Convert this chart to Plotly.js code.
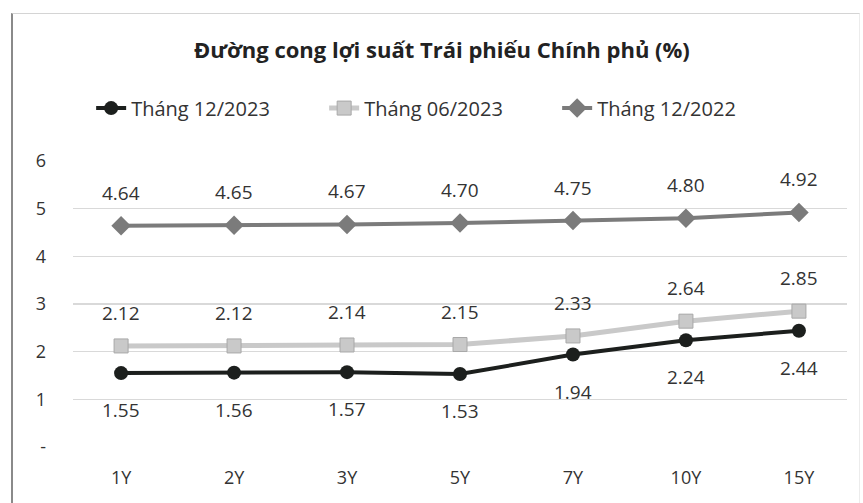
<!DOCTYPE html>
<html>
<head>
<meta charset="utf-8">
<script src="https://cdn.plot.ly/plotly-3.0.1.min.js"></script>
<style>
  html, body { margin: 0; padding: 0; background: #fff; }
  #wrap { position: relative; width: 863px; height: 503px; overflow: hidden; }
  #chart { width: 863px; height: 503px; }
  #frame { position: absolute; left: 11px; top: 13px; width: 849px; height: 500px;
           border-left: 2px solid #8a8a8a; border-top: 1px solid #d4d4d4; border-right: 1px solid #ececec;
           box-sizing: border-box; pointer-events: none; }
</style>
</head>
<body>
<div id="wrap">
  <div id="chart"></div>
  <div id="frame"></div>
</div>
<script>
const categories = ["1Y", "2Y", "3Y", "5Y", "7Y", "10Y", "15Y"];
const seriesNames = ["Tháng 12/2023", "Tháng 06/2023", "Tháng 12/2022"];
const dec2023 = [1.55, 1.56, 1.57, 1.53, 1.94, 2.24, 2.44];
const jun2023 = [2.12, 2.12, 2.14, 2.15, 2.33, 2.64, 2.85];
const dec2022 = [4.64, 4.65, 4.67, 4.70, 4.75, 4.80, 4.92];
const yTickVals = [0, 1, 2, 3, 4, 5, 6];
const yTickText = ["-", "1", "2", "3", "4", "5", "6"];

const FONT = "Open Sans, Noto Sans, sans-serif";
const TXT = "#333333";

const traces = [
  {
    x: categories, y: dec2023, name: seriesNames[0], type: "scatter", mode: "lines+markers",
    line: { color: "#1c1f1d", width: 4 },
    marker: { symbol: "circle", size: 14, color: "#1c1f1d" }
  },
  {
    x: categories, y: jun2023, name: seriesNames[1], type: "scatter", mode: "lines+markers",
    line: { color: "#c9c9c9", width: 5 },
    marker: { symbol: "square", size: 14, color: "#c9c9c9", line: { color: "#a8a8a8", width: 1 } }
  },
  {
    x: categories, y: dec2022, name: seriesNames[2], type: "scatter", mode: "lines+markers",
    line: { color: "#7b7b7b", width: 4 },
    marker: { symbol: "diamond", size: 15, color: "#7b7b7b" }
  }
];

const annotations = [];
function addLabels(vals, shift) {
  vals.forEach((v, i) => {
    annotations.push({
      x: categories[i], y: v, xref: "x", yref: "y", text: v.toFixed(2),
      showarrow: false, yshift: shift,
      font: { family: FONT, size: 19, color: TXT }
    });
  });
}
addLabels(dec2023, -37);
addLabels(jun2023, 33);
addLabels(dec2022, 33);

const layout = {
  width: 863, height: 503,
  margin: { l: 73, r: 16, t: 161, b: 56 },
  paper_bgcolor: "#ffffff", plot_bgcolor: "#ffffff",
  font: { family: FONT, color: TXT, size: 18 },
  title: {
    text: "<b>Đường cong lợi suất Trái phiếu Chính phủ (%)</b>",
    x: 0.512, xanchor: "center", y: 0.9, yanchor: "middle", xref: "container", yref: "container",
    font: { family: FONT, size: 22, color: "#222222" }
  },
  showlegend: true,
  legend: {
    orientation: "h", x: 0.475, xanchor: "center", y: 1.185, yanchor: "middle",
    font: { family: FONT, size: 20, color: TXT }, bgcolor: "rgba(0,0,0,0)",
    entrywidth: 188, entrywidthmode: "pixels", itemclick: false
  },
  xaxis: {
    type: "category", showgrid: false, zeroline: false, showline: false, ticks: "",
    ticklabelstandoff: 18, tickfont: { family: FONT, size: 18, color: TXT }, fixedrange: true
  },
  yaxis: {
    range: [0, 6], tickvals: yTickVals, ticktext: yTickText, showgrid: true,
    gridcolor: "#d9d9d9", gridwidth: 1.5, zeroline: false, showline: false, ticks: "",
    ticklabelstandoff: 26, tickfont: { family: FONT, size: 18, color: TXT }, fixedrange: true
  },
  annotations: annotations
};

Plotly.newPlot("chart", traces, layout, { displayModeBar: false, staticPlot: true });
</script>
</body>
</html>
